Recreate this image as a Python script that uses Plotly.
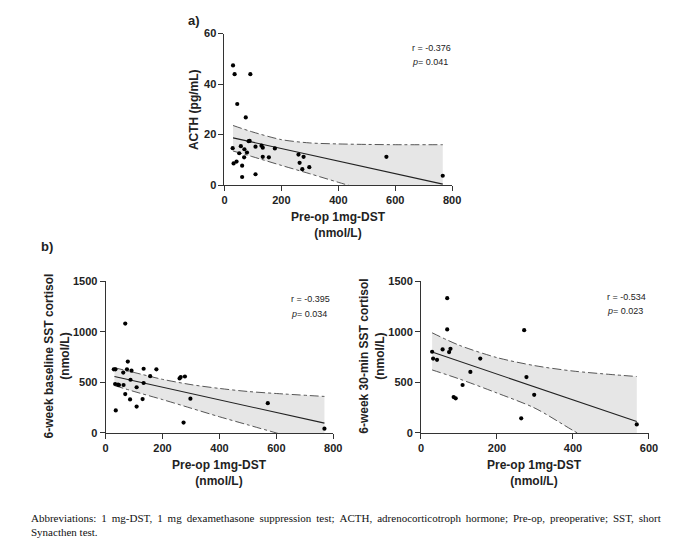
import plotly.graph_objects as go

# ---------------- data ----------------
# Panel a: Pre-op 1mg-DST (nmol/L) vs ACTH (pg/mL)
a_dst = [30, 35.6, 44.8, 90.8, 74.7, 28.7, 32, 42.5, 51.7, 57.5, 70, 62, 62, 69, 79,
         85, 88.5, 109, 109, 130, 134.5, 134.5, 156, 177, 260, 264, 278, 273.5, 298, 569, 767]
a_acth = [47.4, 43.9, 32.1, 43.9, 26.8, 14.6, 8.6, 9.3, 12.6, 15.4, 14.2, 7.7, 3.2, 11, 12.9,
          17.4, 17.5, 15.2, 4.3, 15.6, 14.8, 11.2, 11, 14.5, 12.1, 8.8, 11.2, 6.3, 7.1, 11.2, 3.7]
a_fit_x = [30, 767]
a_fit_y = [18.7, 0.4]
a_ci_x = [30, 100, 200, 300, 400, 500, 600, 767]
a_ci_upper = [23.6, 21.0, 18.0, 16.7, 16.3, 16.1, 16.0, 16.0]
a_ci_lower = [13.5, 11.2, 7.8, 4.5, 1.1, -2.2, -5.5, -11.0]

# Panel b left: Pre-op 1mg-DST vs 6-week baseline SST cortisol (nmol/L)
bl_dst = [28.8, 34.5, 33.4, 43.8, 47, 35.7, 69, 78, 75, 62, 91, 87.5, 63, 69, 86,
          109, 109, 133.6, 133.6, 130, 156.6, 178.5, 260, 264, 278.7, 274, 298, 570, 769]
bl_cort = [629, 629, 484, 477, 474, 223, 1081, 706, 629, 597, 616, 526, 474, 384, 332,
           452, 261, 635, 494, 335, 561, 629, 539, 552, 558, 103, 339, 294, 42]
bl_fit_x = [31, 769]
bl_fit_y = [558, 97]
bl_ci_x = [31, 100, 200, 300, 400, 500, 600, 769]
bl_ci_upper = [645, 598, 530, 478, 440, 410, 390, 361]
bl_ci_lower = [468, 410, 330, 245, 160, 80, 0, -135]

# Panel b right: Pre-op 1mg-DST vs 6-week 30-min SST cortisol (nmol/L)
br_dst = [29.3, 31.9, 42.2, 56.9, 69, 69, 74, 77.6, 86, 91.4, 109.5, 130, 156,
          263.8, 271.6, 277.6, 298, 568]
br_cort = [803, 735, 723, 826, 1332, 1023, 800, 832, 355, 342, 474, 603, 735,
           145, 1016, 552, 377, 84]
br_fit_x = [29.3, 568]
br_fit_y = [800, 113]
br_ci_x = [29.3, 100, 200, 300, 400, 500, 568]
br_ci_upper = [990, 868, 745, 665, 612, 578, 558]
br_ci_lower = [623, 535, 395, 245, 25, -190, -340]

a_stats = ["r = -0.376", "<i>p</i>= 0.041"]
bl_stats = ["r = -0.395", "<i>p</i>= 0.034"]
br_stats = ["r = -0.534", "<i>p</i>= 0.023"]

x_title = "Pre-op 1mg-DST<br>(nmol/L)"
a_ytitle = "ACTH (pg/mL)"
bl_ytitle = "6-week baseline SST cortisol<br>(nmol/L)"
br_ytitle = "6-week 30-min SST cortisol<br>(nmol/L)"
caption1 = ("Abbreviations: 1 mg-DST, 1 mg dexamethasone suppression test; ACTH, "
            "adrenocorticotroph hormone; Pre-op, preoperative; SST, short")
caption2 = "Synacthen test."

W, H = 685, 539
BOLD = dict(family="Liberation Sans, Arial", size=11, color="#222", weight="bold")
TITLE = dict(family="Liberation Sans, Arial", size=12, color="#222", weight="bold")
AX = "#333"

fig = go.Figure()


def add_panel(x, y, fx, fy, cx, cu, cl, xa, ya):
    edge = dict(color="#444", width=0.9, dash="dashdot", shape="spline", smoothing=0.8)
    fig.add_trace(go.Scatter(x=cx, y=cu, mode="lines", line=edge, xaxis=xa, yaxis=ya,
                             showlegend=False, hoverinfo="skip"))
    fig.add_trace(go.Scatter(x=cx, y=cl, mode="lines", line=edge, fill="tonexty",
                             fillcolor="#e6e6e6", xaxis=xa, yaxis=ya,
                             showlegend=False, hoverinfo="skip"))
    fig.add_trace(go.Scatter(x=fx, y=fy, mode="lines", line=dict(color="#222", width=1.1),
                             xaxis=xa, yaxis=ya, showlegend=False, hoverinfo="skip"))
    fig.add_trace(go.Scatter(x=x, y=y, mode="markers", cliponaxis=False,
                             marker=dict(color="black", size=4.2), xaxis=xa, yaxis=ya,
                             showlegend=False))


add_panel(a_dst, a_acth, a_fit_x, a_fit_y, a_ci_x, a_ci_upper, a_ci_lower, "x", "y")
add_panel(bl_dst, bl_cort, bl_fit_x, bl_fit_y, bl_ci_x, bl_ci_upper, bl_ci_lower, "x2", "y2")
add_panel(br_dst, br_cort, br_fit_x, br_fit_y, br_ci_x, br_ci_upper, br_ci_lower, "x3", "y3")


def px_x(p):
    return p / W


def px_y(p):
    return 1 - p / H


def axis(domain, rng, dtick, anchor):
    return dict(domain=domain, range=rng, dtick=dtick, tick0=0, showline=True,
                linecolor=AX, linewidth=1, ticks="outside", ticklen=5, tickwidth=1,
                tickcolor=AX, showgrid=False, zeroline=False, tickfont=BOLD,
                anchor=anchor, fixedrange=True)


yb_dom = [px_y(428.5), px_y(273.3)]
fig.update_layout(
    width=W, height=H, margin=dict(l=0, r=0, t=0, b=0),
    paper_bgcolor="white", plot_bgcolor="white",
    xaxis=axis([px_x(217.3), px_x(449)], [0, 800], 200, "y"),
    yaxis=axis([px_y(175), px_y(20)], [0, 60], 20, "x"),
    xaxis2=axis([px_x(96.3), px_x(328)], [0, 800], 200, "y2"),
    yaxis2=axis(yb_dom, [0, 1500], 500, "x2"),
    xaxis3=axis([px_x(417.3), px_x(649.3)], [0, 600], 200, "y3"),
    yaxis3=axis(yb_dom, [0, 1500], 500, "x3"),
)

ann = []


def text(x, y, s, font, xanchor="center", yanchor="middle", angle=0, align="center"):
    ann.append(dict(x=px_x(x), y=px_y(y), xref="paper", yref="paper", text=s,
                    showarrow=False, font=font, xanchor=xanchor, yanchor=yanchor,
                    textangle=angle, align=align))


STAT = dict(family="Liberation Sans, Arial", size=9, color="#222")
# panel labels
text(186.5, 7, "a)", dict(TITLE, size=13))
text(37, 238, "b)", dict(TITLE, size=13))
# x titles
text(333, 216, x_title, TITLE)
text(212, 469.5, x_title, TITLE)
text(533, 469.5, x_title, TITLE)
# y titles
text(186.5, 98, a_ytitle, TITLE, angle=-90)
text(47, 350, bl_ytitle, TITLE, angle=-90)
text(368, 350, br_ytitle, TITLE, angle=-90)
# stats
for (x0, y0, st) in [(406, 35, a_stats), (283, 292, bl_stats), (605, 289, br_stats)]:
    text(x0, y0, st[0], STAT, xanchor="left")
    text(x0, y0 + 14.5, st[1], STAT, xanchor="left")
# caption (justified look: slightly widened word gaps)
CAP = dict(family="Liberation Serif, Times New Roman", size=11, color="#111")
text(18, 515, caption1.replace(" ", " \u2009"), CAP, xanchor="left")
text(18, 529.5, caption2, CAP, xanchor="left")

fig.update_layout(annotations=ann)
fig.write_html("out.html")
